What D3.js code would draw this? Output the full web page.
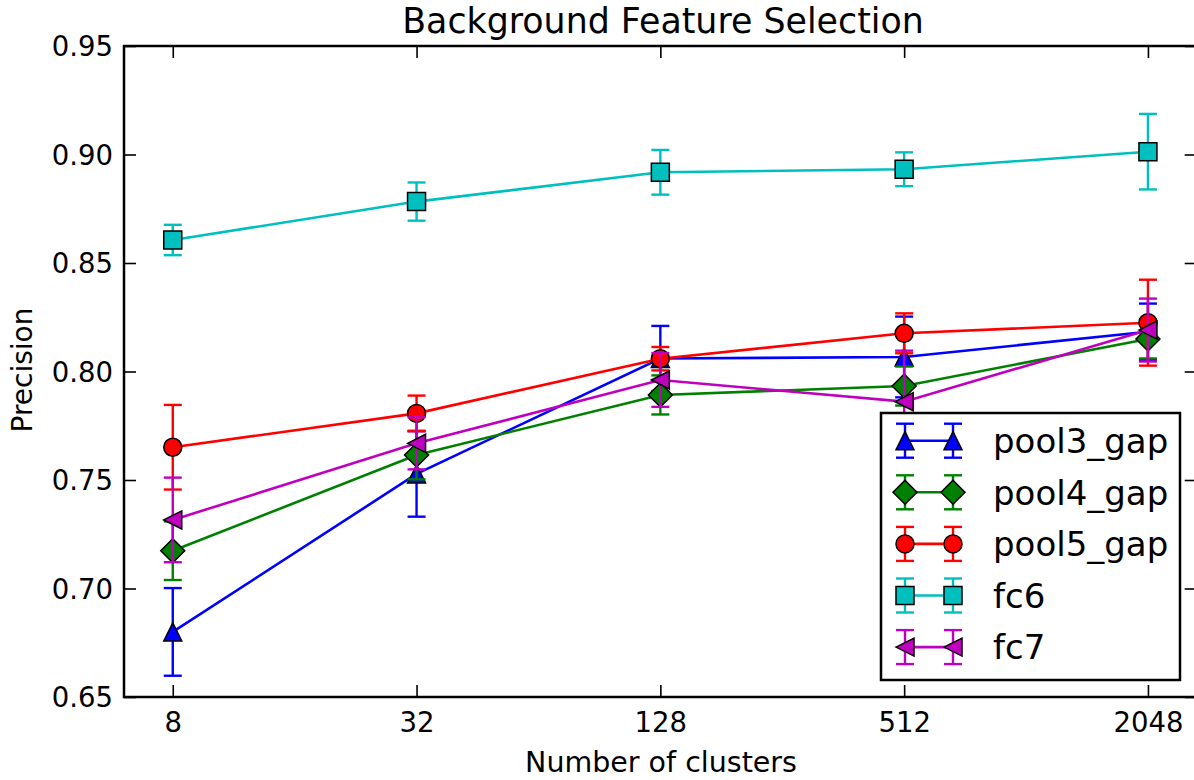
<!DOCTYPE html>
<html>
<head>
<meta charset="utf-8">
<script src="https://cdn.jsdelivr.net/npm/d3@7"></script>
<style>
  html, body { margin: 0; padding: 0; background: #fff; }
  svg { display: block; font-family: "DejaVu Sans", sans-serif; }
</style>
</head>
<body>
<svg id="chart" width="1194" height="780"></svg>
<script>
// ---- data ----
const categories = [8, 32, 128, 512, 2048];
const xTickLabels = ["8", "32", "128", "512", "2048"];
const yTicks = [0.65, 0.70, 0.75, 0.80, 0.85, 0.90, 0.95];

const seriesNames = ["pool3_gap", "pool4_gap", "pool5_gap", "fc6", "fc7"];
const pool3Values = [0.680, 0.7528, 0.8060, 0.8067, 0.8183];
const pool3Errors = [0.0202, 0.0197, 0.0150, 0.0186, 0.0130];
const pool4Values = [0.7174, 0.7615, 0.7892, 0.7933, 0.8150];
const pool4Errors = [0.0135, 0.0112, 0.0090, 0.0090, 0.0090];
const pool5Values = [0.7651, 0.7807, 0.8059, 0.8176, 0.8225];
const pool5Errors = [0.0195, 0.0082, 0.0054, 0.0092, 0.0198];
const fc6Values = [0.8606, 0.8783, 0.8918, 0.8932, 0.9013];
const fc6Errors = [0.0070, 0.0088, 0.0103, 0.0078, 0.0174];
const fc7Values = [0.7316, 0.7669, 0.7961, 0.7861, 0.8191];
const fc7Errors = [0.0195, 0.0120, 0.0124, 0.0235, 0.0145];

const seriesValues = [pool3Values, pool4Values, pool5Values, fc6Values, fc7Values];
const seriesErrors = [pool3Errors, pool4Errors, pool5Errors, fc6Errors, fc7Errors];
const seriesColors = ["#0000ff", "#008000", "#ff0000", "#00bfbf", "#bf00bf"];
const seriesMarkers = ["triangleUp", "diamond", "circle", "square", "triangleLeft"];

// ---- layout ----
const L = 124, R = 1196.7, T = 46, B = 697;
const svg = d3.select("#chart");

const x = d3.scaleLog().base(2).domain([Math.pow(2, 2.6), Math.pow(2, 11.4)]).range([L, R]);
const y = d3.scaleLinear().domain([0.65, 0.95]).range([B, T]);

function markerPath(type) {
  const s = 9; // half size
  switch (type) {
    case "triangleUp": return `M0,${-s} L${s},${s} L${-s},${s} Z`;
    case "triangleLeft": return `M${-s},0 L${s},${-s} L${s},${s} Z`;
    case "square": return `M${-s},${-s} H${s} V${s} H${-s} Z`;
    case "diamond": { const d = 12; return `M0,${-d} L${d},0 L0,${d} L${-d},0 Z`; }
    case "circle": return d3.symbol().type(d3.symbolCircle).size(Math.PI * s * s)();
  }
}

// ---- axes (ticks inside, all four sides) ----
const tickLen = 12;
const axisFont = 27.5;

const xAxisB = d3.axisBottom(x).tickValues(categories).tickFormat((d, i) => xTickLabels[i])
  .tickSizeInner(-tickLen).tickSizeOuter(0).tickPadding(25);
const gxB = svg.append("g").attr("transform", `translate(0,${B})`).call(xAxisB);
const xAxisT = d3.axisTop(x).tickValues(categories).tickFormat("").tickSizeInner(-tickLen).tickSizeOuter(0);
const gxT = svg.append("g").attr("transform", `translate(0,${T})`).call(xAxisT);
const yAxisL = d3.axisLeft(y).tickValues(yTicks).tickFormat(d3.format(".2f"))
  .tickSizeInner(-tickLen).tickSizeOuter(0).tickPadding(11);
const gyL = svg.append("g").attr("transform", `translate(${L},0)`).call(yAxisL);
const yAxisR = d3.axisRight(y).tickValues(yTicks).tickFormat("").tickSizeInner(-tickLen).tickSizeOuter(0);
const gyR = svg.append("g").attr("transform", `translate(${R},0)`).call(yAxisR);

[gxB, gxT, gyL, gyR].forEach(g => {
  g.select(".domain").remove();
  g.selectAll(".tick line").attr("stroke", "#000").attr("stroke-width", 1.6);
  g.selectAll(".tick text").attr("fill", "#000").attr("font-size", axisFont)
    .attr("font-family", "DejaVu Sans, sans-serif");
});
gxB.selectAll(".tick text").attr("dy", null).attr("y", 35);
gyL.selectAll(".tick text").attr("dy", "0.36em");

// ---- series ----
const plot = svg.append("g");
seriesNames.forEach((name, si) => {
  const color = seriesColors[si];
  const vals = seriesValues[si];
  const errs = seriesErrors[si];
  const g = plot.append("g");
  // error bars
  categories.forEach((c, i) => {
    const cx = x(c), y1 = y(vals[i] + errs[i]), y0 = y(vals[i] - errs[i]);
    g.append("line").attr("x1", cx).attr("x2", cx).attr("y1", y1).attr("y2", y0)
      .attr("stroke", color).attr("stroke-width", 2.4);
    [y1, y0].forEach(yy => g.append("line").attr("x1", cx - 9).attr("x2", cx + 9)
      .attr("y1", yy).attr("y2", yy).attr("stroke", color).attr("stroke-width", 2.4));
  });
  // line
  const line = d3.line().x((d, i) => x(categories[i])).y(d => y(d));
  g.append("path").datum(vals).attr("d", line).attr("fill", "none")
    .attr("stroke", color).attr("stroke-width", 2.6);
  // markers
  vals.forEach((v, i) => {
    g.append("path").attr("d", markerPath(seriesMarkers[si]))
      .attr("transform", `translate(${x(categories[i])},${y(v)})`)
      .attr("fill", color).attr("stroke", "#000").attr("stroke-width", 1.5);
  });
});

// ---- spines ----
svg.append("rect").attr("x", L).attr("y", T).attr("width", R - L).attr("height", B - T)
  .attr("fill", "none").attr("stroke", "#000").attr("stroke-width", 2.5);

// ---- legend ----
const lg = svg.append("g");
lg.append("rect").attr("x", 881).attr("y", 413).attr("width", 299).attr("height", 267)
  .attr("fill", "#fff").attr("stroke", "#000").attr("stroke-width", 2.5);
seriesNames.forEach((name, si) => {
  const cy = 440.7 + si * 51.6;
  const color = seriesColors[si];
  lg.append("line").attr("x1", 905).attr("x2", 953).attr("y1", cy).attr("y2", cy)
    .attr("stroke", color).attr("stroke-width", 2.6);
  [905, 953].forEach(mx => {
    lg.append("line").attr("x1", mx).attr("x2", mx).attr("y1", cy - 17).attr("y2", cy + 17)
      .attr("stroke", color).attr("stroke-width", 2.4);
    [cy - 17, cy + 17].forEach(yy => lg.append("line").attr("x1", mx - 9).attr("x2", mx + 9)
      .attr("y1", yy).attr("y2", yy).attr("stroke", color).attr("stroke-width", 2.4));
    lg.append("path").attr("d", markerPath(seriesMarkers[si]))
      .attr("transform", `translate(${mx},${cy})`)
      .attr("fill", color).attr("stroke", "#000").attr("stroke-width", 1.5);
  });
  lg.append("text").attr("x", 993).attr("y", cy).attr("dy", "0.36em")
    .attr("font-size", 34).attr("fill", "#000").text(name);
});

// ---- titles ----
svg.append("text").attr("x", 663).attr("y", 33).attr("text-anchor", "middle")
  .attr("font-size", 34.8).attr("fill", "#000").text("Background Feature Selection");
svg.append("text").attr("x", 661).attr("y", 772).attr("text-anchor", "middle")
  .attr("font-size", 28.5).attr("fill", "#000").text("Number of clusters");
svg.append("text").attr("transform", "translate(32,370) rotate(-90)").attr("text-anchor", "middle")
  .attr("font-size", 28).attr("fill", "#000").text("Precision");
</script>
</body>
</html>
